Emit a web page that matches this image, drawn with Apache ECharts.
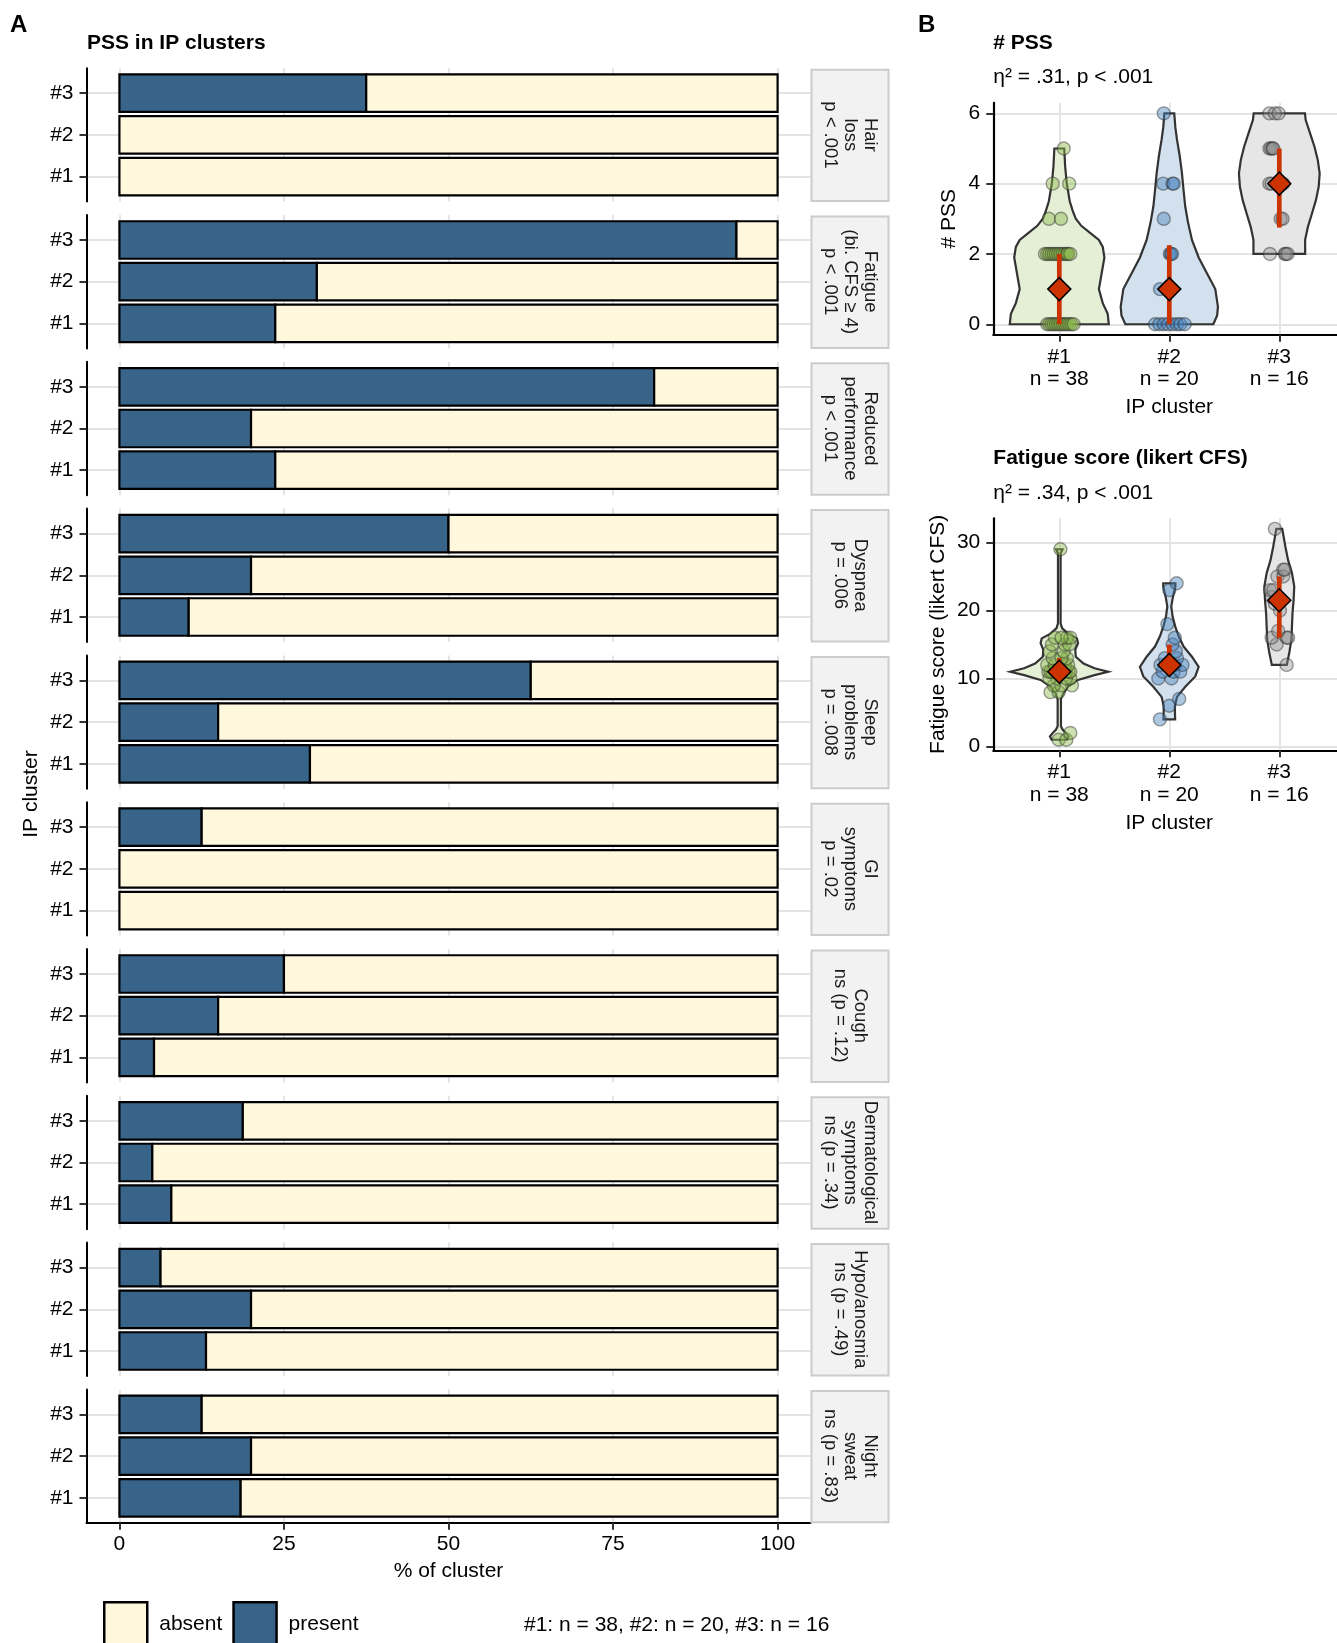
<!DOCTYPE html>
<html><head><meta charset="utf-8">
<script src="https://cdn.jsdelivr.net/npm/echarts@6/dist/echarts.min.js"></script>
<style>html,body{margin:0;padding:0;background:#fff;overflow:hidden;width:1337px;height:1643px}#c{width:1352px;height:1643px}</style>
</head><body><div id="c"></div><script>
// ---------- DATA ----------
const facetNames = [
  'Hair\nloss\np < .001',
  'Fatigue\n(bi. CFS ≥ 4)\np < .001',
  'Reduced\nperformance\np < .001',
  'Dyspnea\np = .006',
  'Sleep\nproblems\np = .008',
  'GI\nsymptoms\np = .02',
  'Cough\nns (p = .12)',
  'Dermatological\nsymptoms\nns (p = .34)',
  'Hypo/anosmia\nns (p = .49)',
  'Night\nsweat\nns (p = .83)'
];
const clusterLabels = ['#1', '#2', '#3'];
const clusterN = [38, 20, 16];
// % present per facet
const presentPct1 = [0, 23.68, 23.68, 10.53, 28.95, 0, 5.26, 7.89, 13.16, 18.42];
const presentPct2 = [0, 30, 20, 20, 15, 0, 15, 5, 20, 20];
const presentPct3 = [37.5, 93.75, 81.25, 50, 62.5, 12.5, 25, 18.75, 6.25, 12.5];
const pctTicks = [0, 25, 50, 75, 100];
const clusterTicks = [1, 2, 3];

// # PSS
const pssTicks = [0, 2, 4, 6];
const pssVals1 = [0,0,0,0,0,0,0,0,0,0,0,0,0, 1,1,1,1,1,1,1, 2,2,2,2,2,2,2,2,2,2,2,2,2, 3,3, 4,4, 5];
const pssJit1 = [-0.11,-0.09,-0.07,-0.05,-0.03,-0.01,0.01,0.03,0.05,0.07,0.09,0.11,0.13, -0.02,-0.01,0,0.01,0.02,-0.015,0.015, -0.13,-0.11,-0.09,-0.07,-0.05,-0.03,-0.01,0.01,0.03,0.05,0.07,0.08,0.1, -0.094,0.015, -0.06,0.09, 0.04];
const pssVals2 = [0,0,0,0,0,0,0,0, 1,1,1,1, 2,2,2, 3, 4,4,4, 6];
const pssJit2 = [-0.13,-0.09,-0.05,-0.01,0.03,0.07,0.1,0.14, -0.085,-0.015,0,0.015, 0.005,0.015,0.025, -0.05, -0.055,0.03,0.04, -0.05];
const pssVals3 = [2,2,2,2, 3,3, 4,4,4, 5,5,5,5, 6,6,6];
const pssJit3 = [-0.085,0.05,0.06,0.076, 0.012,0.03, -0.09,-0.07,0.035, -0.09,-0.076,-0.06,-0.055, -0.09,-0.04,-0.006];
const pssCenter = [1, 1, 4];
const pssLow = [0, 0, 2.75];
const pssHigh = [2, 2.25, 5];
// violin outlines: [value, half width in cluster units]
const pssViolin1 = [[0,0.45],[0.3,0.44],[0.6,0.395],[1.0,0.36],[1.45,0.385],[1.9,0.41],[2.2,0.395],[2.4,0.36],[2.6,0.28],[2.8,0.2],[3.0,0.15],[3.2,0.125],[3.5,0.095],[4.0,0.068],[4.5,0.053],[5,0.045]];
const pssViolin2 = [[0,0.40],[0.25,0.435],[0.5,0.442],[1.0,0.418],[1.45,0.342],[1.9,0.267],[2.4,0.206],[2.9,0.17],[3.35,0.145],[3.8,0.13],[4.3,0.115],[4.8,0.094],[5.25,0.07],[5.6,0.055],[6,0.045]];
const pssViolin3 = [[2,0.235],[2.4,0.235],[2.77,0.26],[3.15,0.297],[3.53,0.333],[3.91,0.358],[4.29,0.367],[4.67,0.35],[5.05,0.32],[5.43,0.28],[5.81,0.24],[6,0.233]];

// Fatigue score
const fatTicks = [0, 10, 20, 30];
const fatVals1 = [1,1,2, 8,8, 9,9,9, 10,10,10,10, 11,11,11,11,11,11,11,11,11, 12,12,12,12, 13,13,13, 14,14, 15,15,15, 16,16,16,16, 29];
const fatJit1 = [-0.006,0.064,0.1, -0.08,-0.006, 0.115,0.02,-0.05, 0.1,-0.02,0.06,-0.09, -0.1,0.085,-0.06,0.03,-0.03,0.06,0.0,0.1,-0.08, -0.11,0.05,-0.04,0.08, 0.07,-0.06,0.02, -0.088,0.04, -0.067,0.05,0.09, 0.07,-0.04,0.1,0.02, 0.01];
const fatVals2 = [4,6,7,10,10,11,11,11,12,12,12,12,13,13,14,15,16,18,23,24];
const fatJit2 = [-0.085,0,0.09,-0.1,0.02,-0.06,0.04,0.1,-0.08,-0.02,0.05,0.12,-0.04,0.07,0.06,0.03,0.05,-0.018,0,0.067];
const fatVals3 = [12,15,16,16,16,17,20,21,22,23,23,25,25,26,26,32];
const fatJit3 = [0.067,-0.024,-0.07,0.067,0.08,-0.01,0.006,-0.04,-0.07,-0.085,-0.055,-0.018,0.036,0.036,0.05,-0.04];
const fatCenter = [11, 12, 21.5];
const fatLow = [10, 10.8, 16];
const fatHigh = [13, 15, 25];
const fatViolin1 = [[1,0.07],[1.5,0.085],[2.0,0.06],[2.5,0.03],[3,0.015],[7,0.015],[7.8,0.036],[8.8,0.08],[9.8,0.17],[10.5,0.32],[11,0.445],[11.5,0.32],[12.2,0.22],[13.2,0.15],[14.2,0.145],[15.2,0.17],[15.9,0.16],[16.6,0.08],[17.4,0.025],[18.1,0.012],[28.4,0.012],[29,0.03]];
const fatViolin2 = [[4,0.053],[5.9,0.05],[7.3,0.07],[8.8,0.145],[10.3,0.236],[11.7,0.267],[13.2,0.206],[14.7,0.13],[16.2,0.085],[17.6,0.055],[19.1,0.03],[20.6,0.018],[22,0.033],[23.5,0.055],[24,0.055]];
const fatViolin3 = [[12,0.068],[13.7,0.09],[15.7,0.11],[17.6,0.115],[19.6,0.12],[21.5,0.13],[23.5,0.136],[25.5,0.115],[27.4,0.08],[29.4,0.055],[30.8,0.04],[32,0.027]];

// ---------- STYLE ----------
const FONT = '"Liberation Sans", Arial, Helvetica, sans-serif';
const PRESENT = '#39648a';
const ABSENT = '#fff8dc';
const RED = '#cc3300';
const GRID = '#e3e3e3';
const violinFill = ['#e5efd6', '#d3e1ee', '#e6e6e6'];
const pointFill = ['rgba(140,185,75,0.55)', 'rgba(70,130,190,0.55)', 'rgba(140,140,140,0.5)'];
const pointEdge = 'rgba(40,40,40,0.55)';

const facetTop0 = 68.2, facetStep = 146.8, facetH = 133.4, facetLeft = 86.5, facetW = 724;
const stripX = 811.5, stripW = 77;

const grids = [], xAxes = [], yAxes = [], series = [], graphics = [];

function barRender(params, api) {
  const y = api.value(0), x0 = api.value(1), x1 = api.value(2);
  if (x1 - x0 <= 0) return null;
  const p0 = api.coord([x0, y]), p1 = api.coord([x1, y]);
  const h = api.size([0, 0.9])[1];
  return {type: 'rect', shape: {x: p0[0], y: p0[1] - h / 2, width: p1[0] - p0[0], height: h},
    style: {fill: api.visual('color'), stroke: '#000', lineWidth: 2.2}};
}

for (let k = 0; k < 10; k++) {
  const last = k === 9;
  const top = facetTop0 + facetStep * k;
  grids.push({left: facetLeft, top: top, width: facetW, height: facetH});
  xAxes.push({
    gridIndex: k, type: 'value', min: -5, max: 105,
    axisLine: {show: last, onZero: false, lineStyle: {color: '#000', width: 2}},
    axisTick: {show: last, customValues: pctTicks, length: 7, lineStyle: {color: '#333', width: 2}},
    axisLabel: {show: last, customValues: pctTicks, margin: 11, fontSize: 21, color: '#000', fontFamily: FONT},
    splitLine: {show: true, lineStyle: {color: GRID, width: 1.8}},
    name: last ? '% of cluster' : '', nameLocation: 'middle', nameGap: 38,
    nameTextStyle: {fontSize: 21, color: '#000', fontFamily: FONT}
  });
  yAxes.push({
    gridIndex: k, type: 'value', min: 0.4, max: 3.6,
    axisLine: {show: true, onZero: false, lineStyle: {color: '#000', width: 2}},
    axisTick: {show: true, customValues: clusterTicks, length: 7, lineStyle: {color: '#333', width: 2}},
    axisLabel: {customValues: clusterTicks, formatter: v => clusterLabels[v - 1], margin: 13, fontSize: 21, color: '#000', fontFamily: FONT},
    splitLine: {show: true, lineStyle: {color: GRID, width: 1.8}}
  });
  const p = [presentPct1[k], presentPct2[k], presentPct3[k]];
  series.push({
    type: 'custom', name: 'present', xAxisIndex: k, yAxisIndex: k,
    itemStyle: {color: PRESENT}, encode: {x: [1, 2], y: 0},
    data: p.map((v, i) => [i + 1, 0, v]), renderItem: barRender
  });
  series.push({
    type: 'custom', name: 'absent', xAxisIndex: k, yAxisIndex: k,
    itemStyle: {color: ABSENT}, encode: {x: [1, 2], y: 0},
    data: p.map((v, i) => [i + 1, v, 100]), renderItem: barRender
  });
  // strip
  graphics.push({type: 'rect', shape: {x: stripX, y: top + 1.5, width: stripW, height: facetH - 2},
    style: {fill: '#f2f2f2', stroke: '#cccccc', lineWidth: 2}, z: 10});
  graphics.push({type: 'text', x: stripX + stripW / 2, y: top + facetH / 2, rotation: -Math.PI / 2,
    style: {text: facetNames[k], fontSize: 18.5, lineHeight: 20, fontFamily: FONT, fill: '#1a1a1a',
      align: 'center', verticalAlign: 'middle'}, z: 11});
}

// ---------- Panel B ----------
function violinRender(profiles, fills) {
  return function (params, api) {
    const i = params.dataIndex;
    const c = api.value(0);
    const prof = profiles[i];
    const pts = [];
    for (let j = 0; j < prof.length; j++) pts.push(api.coord([c + prof[j][1], prof[j][0]]));
    for (let j = prof.length - 1; j >= 0; j--) pts.push(api.coord([c - prof[j][1], prof[j][0]]));
    return {type: 'polygon', shape: {points: pts}, style: {fill: fills[i], stroke: '#333', lineWidth: 2.2}};
  };
}
function rangeRender(params, api) {
  const c = api.value(0), lo = api.value(1), hi = api.value(2);
  const a = api.coord([c, hi]), b = api.coord([c, lo]);
  return {type: 'rect', shape: {x: a[0] - 2.35, y: a[1], width: 4.7, height: b[1] - a[1]}, style: {fill: RED}};
}

function addPanelB(gi, top, ymin, ymax, ticks, yName, nameGap, xNameGap, violins, vals, jits, center, low, high) {
  grids.push({left: 993.3, top: top, width: 352, height: 232});
  xAxes.push({
    gridIndex: gi, type: 'value', min: 0.4, max: 3.6,
    axisLine: {show: true, onZero: false, lineStyle: {color: '#000', width: 2.2}},
    axisTick: {show: true, customValues: clusterTicks, length: 7, lineStyle: {color: '#333', width: 2}},
    axisLabel: {customValues: clusterTicks, formatter: v => clusterLabels[v - 1] + '\nn = ' + clusterN[v - 1],
      margin: 11, fontSize: 21, lineHeight: 22.6, color: '#000', fontFamily: FONT},
    splitLine: {show: true, lineStyle: {color: GRID, width: 1.8}},
    name: 'IP cluster', nameLocation: 'middle', nameGap: xNameGap,
    nameTextStyle: {fontSize: 21, color: '#000', fontFamily: FONT}
  });
  yAxes.push({
    gridIndex: gi, type: 'value', min: ymin, max: ymax,
    axisLine: {show: true, onZero: false, lineStyle: {color: '#000', width: 2.2}},
    axisTick: {show: true, customValues: ticks, length: 7, lineStyle: {color: '#333', width: 2}},
    axisLabel: {customValues: ticks, margin: 13, fontSize: 21, color: '#000', fontFamily: FONT},
    splitLine: {show: true, lineStyle: {color: GRID, width: 1.8}},
    name: yName, nameLocation: 'middle', nameGap: nameGap,
    nameTextStyle: {fontSize: 21, color: '#000', fontFamily: FONT}
  });
  series.push({type: 'custom', xAxisIndex: gi, yAxisIndex: gi, encode: {x: 0, y: 1},
    data: [[1, violins[0][0][0]], [2, violins[1][0][0]], [3, violins[2][0][0]]],
    renderItem: violinRender(violins, violinFill), z: 2});
  for (let c = 0; c < 3; c++) {
    series.push({type: 'scatter', xAxisIndex: gi, yAxisIndex: gi, symbolSize: 13,
      itemStyle: {color: pointFill[c], borderColor: pointEdge, borderWidth: 1.4},
      data: vals[c].map((v, i) => [c + 1 + jits[c][i], v]), z: 3});
  }
  series.push({type: 'custom', xAxisIndex: gi, yAxisIndex: gi, encode: {x: 0, y: [1, 2]},
    data: center.map((v, i) => [i + 1, low[i], high[i]]), renderItem: rangeRender, z: 4});
  series.push({type: 'scatter', xAxisIndex: gi, yAxisIndex: gi, symbol: 'diamond', symbolSize: 23,
    itemStyle: {color: RED, borderColor: '#000', borderWidth: 1.5, opacity: 1},
    data: center.map((v, i) => [i + 1, v]), z: 5});
}

addPanelB(10, 102.8, -0.3, 6.3, pssTicks, '# PSS', 33.5, 62,
  [pssViolin1, pssViolin2, pssViolin3], [pssVals1, pssVals2, pssVals3], [pssJit1, pssJit2, pssJit3],
  pssCenter, pssLow, pssHigh);
addPanelB(11, 518.3, -0.55, 33.55, fatTicks, 'Fatigue score (likert CFS)', 45, 62,
  [fatViolin1, fatViolin2, fatViolin3], [fatVals1, fatVals2, fatVals3], [fatJit1, fatJit2, fatJit3],
  fatCenter, fatLow, fatHigh);

function txt(text, x, y, size, bold, extra) {
  return Object.assign({type: 'text', x: x, y: y,
    style: {text: text, fontSize: size, fontWeight: bold ? 'bold' : 'normal', fontFamily: FONT, fill: '#000',
      align: 'left', verticalAlign: 'middle'}}, extra || {});
}
graphics.push(txt('A', 10, 25, 24, true));
graphics.push(txt('PSS in IP clusters', 87, 43.5, 21, true));
graphics.push(txt('B', 918, 25, 24, true));
graphics.push(txt('# PSS', 993.3, 43.2, 21, true));
graphics.push(txt('η² = .31, p < .001', 993.3, 77.5, 21, false));
graphics.push(txt('Fatigue score (likert CFS)', 993.3, 458.2, 21, true));
graphics.push(txt('η² = .34, p < .001', 993.3, 493.2, 21, false));
graphics.push({type: 'text', x: 31.4, y: 794, rotation: Math.PI / 2,
  style: {text: 'IP cluster', fontSize: 21, fontFamily: FONT, fill: '#000', align: 'center', verticalAlign: 'middle'}});
graphics.push(txt('#1: n = 38, #2: n = 20, #3: n = 16', 524, 1625, 21, false));

const option = {
  animation: false,
  backgroundColor: '#fff',
  grid: grids, xAxis: xAxes, yAxis: yAxes, series: series,
  legend: {
    data: ['absent', 'present'], left: 103, top: 1601, orient: 'horizontal', padding: 0,
    icon: 'rect', itemWidth: 43, itemHeight: 44, itemGap: 10, selectedMode: false,
    itemStyle: {borderColor: '#000', borderWidth: 2.5},
    formatter: n => '{t|' + n + '}',
    textStyle: {fontSize: 21, color: '#000', fontFamily: FONT,
      rich: {t: {fontSize: 21, color: '#000', fontFamily: FONT, padding: [0, 0, 0, 7]}}}
  },
  graphic: {elements: graphics}
};
const chart = echarts.init(document.getElementById('c'), null, {renderer: 'canvas'});
chart.setOption(option);
</script></body></html>
